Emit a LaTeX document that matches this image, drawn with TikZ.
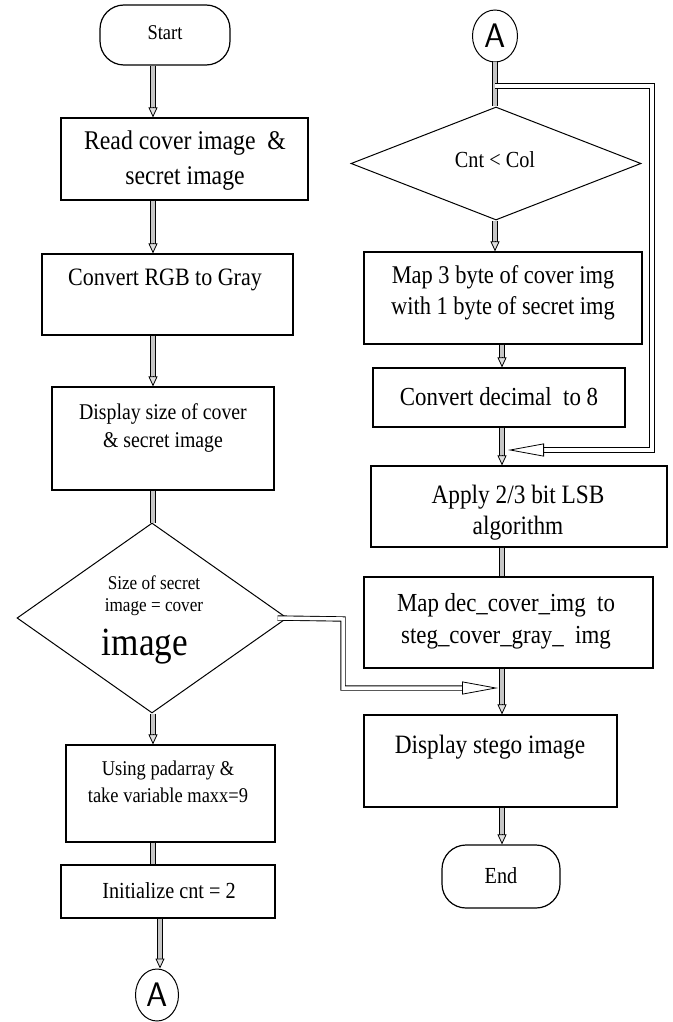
\documentclass[tikz,border=0pt]{standalone}
\usepackage{fontspec}
\setmainfont{Liberation Serif}[FakeStretch=0.88]
\usetikzlibrary{shapes.geometric,arrows.meta,calc}
\tikzset{
  box/.style={draw=black, line width=1.2pt, rectangle, inner sep=0pt},
  term/.style={draw=black, line width=1.2pt, rectangle, rounded corners=24pt, inner sep=0pt},
  dia/.style={draw=black, line width=1pt, diamond, inner sep=0pt},
  conn/.style={draw=black, line width=1pt, ellipse, inner sep=0pt},
  txt/.style={inner sep=0pt, align=center},
  dbl/.style={draw=black, line width=0.9pt, double=gray!45, double distance=3.5pt},
  dblw/.style={dbl, double=white},
  tipv/.style={draw=black, line width=0.8pt, -{Triangle[length=10pt,width=9pt,fill=gray!25]}},
  tiph/.style={draw=black, line width=0.8pt, -{Triangle[length=36pt,width=13pt,fill=white]}},
}
\newcommand\varr[2]{\draw[dbl,shorten >=9pt] (#1) -- (#2); \draw[tipv] ($(#2)!10pt!(#1)$) -- (#2);}
\newcommand\fs[2]{\fontsize{#1}{#2}\selectfont}
\begin{document}
\begin{tikzpicture}[x=1pt,y=-1pt]
\useasboundingbox (0,0) rectangle (672,1022);
% left column
\node[term, minimum width=130pt, minimum height=60pt] (start) at (165,35) {};
\node[box, minimum width=247pt, minimum height=82pt] (read) at (184.5,159) {};
\node[box, minimum width=251pt, minimum height=81pt] (conv) at (167.5,294.5) {};
\node[box, minimum width=222pt, minimum height=103pt] (disp) at (163,438.5) {};
\node[dia, minimum width=270pt, minimum height=190pt] (d1) at (152,618) {};
\node[box, minimum width=209pt, minimum height=97pt] (using) at (170.5,793.5) {};
\node[box, minimum width=214pt, minimum height=53pt] (init) at (168,891.5) {};
\node[conn, minimum width=43pt, minimum height=52pt] (A1) at (157,995) {};
% right column
\node[conn, minimum width=45pt, minimum height=52pt] (A2) at (495,36) {};
\node[dia, minimum width=290pt, minimum height=113pt] (d2) at (496,163.5) {};
\node[box, minimum width=278pt, minimum height=92pt] (map3) at (503,298) {};
\node[box, minimum width=252pt, minimum height=59pt] (convdec) at (499,397.5) {};
\node[box, minimum width=296pt, minimum height=81pt] (apply) at (519,506.5) {};
\node[box, minimum width=289pt, minimum height=91pt] (mapdec) at (508.5,622.5) {};
\node[box, minimum width=253pt, minimum height=92pt] (dstego) at (490.5,761) {};
\node[term, minimum width=118pt, minimum height=63pt] (endn) at (501,876.5) {};
% texts
\node[txt, font=\fs{21}{24}] (tstart) at (165,33) {Start};
\node[txt, font=\fs{27}{35}] (tread) at (185,161) {Read cover image \ \&\\secret image};
\node[txt, font=\fs{25}{30}] (tconv) at (165,280) {Convert RGB to Gray};
\node[txt, font=\fs{22.5}{28}] (tdisp) at (163,428) {Display size of cover\\\& secret image};
\node[txt, font=\fs{19.5}{22}] (td1a) at (154,596) {Size of secret\\image = cover};
\node[txt, font=\fs{40}{40}] (td1b) at (145,647) {image};
\node[txt, font=\fs{21}{27}] (tusing) at (168,782) {Using padarray \&\\take variable maxx=9};
\node[txt, font=\fs{23}{28}] (tinit) at (169,891) {Initialize cnt = 2};
\node[txt, font=\sffamily\fs{34}{34}] (tA1) at (157,995) {A};
\node[txt, font=\sffamily\fs{34}{34}] (tA2) at (495,36) {A};
\node[txt, font=\fs{23}{28}] (td2) at (495,160) {Cnt < Col};
\node[txt, font=\fs{25.5}{31}] (tmap3) at (503,293) {Map 3 byte of cover img\\with 1 byte of secret img};
\node[txt, font=\fs{26}{31}] (tconvdec) at (499,397) {Convert decimal \ to 8};
\node[txt, font=\fs{26.5}{31}] (tapply) at (518,513) {Apply 2/3 bit LSB\\algorithm};
\node[txt, font=\fs{26}{32}] (tmapdec) at (506,621) {Map dec\_cover\_img \ to\\steg\_cover\_gray\_ \ img};
\node[txt, font=\fs{26.5}{31}] (tdstego) at (490,747) {Display stego image};
\node[txt, font=\fs{23}{28}] (tend) at (501,876) {End};
% column lines
\coordinate (L) at (153,0);
\coordinate (LA) at (160,0);
\coordinate (R1) at (495,0);
\coordinate (R) at (502,0);
% left connectors
\varr{start.south -| L}{read.north -| L}
\varr{read.south -| L}{conv.north -| L}
\varr{conv.south -| L}{disp.north -| L}
\draw[dbl] (disp.south -| L) -- (d1.north -| L);
\varr{d1.south -| L}{using.north -| L}
\draw[dbl] (using.south -| L) -- (init.north -| L);
\varr{init.south -| LA}{A1.north -| LA}
% right connectors
\draw[dbl] (A2.south -| R1) -- (d2.north -| R1);
\varr{d2.south -| R1}{map3.north -| R1}
\varr{map3.south -| R}{convdec.north -| R}
\varr{convdec.south -| R}{apply.north -| R}
\draw[dbl] (apply.south -| R) -- (mapdec.north -| R);
\varr{mapdec.south -| R}{dstego.north -| R}
\varr{dstego.south -| R}{endn.north -| R}
% loop
\coordinate (J) at (495,86);
\coordinate (lc1) at (652,86);
\coordinate (lc2) at (652,450);
\coordinate (mergeA) at (508,450);
\draw[dblw, double distance=4.5pt, shorten >=32pt] (J) -- (lc1) -- (lc2) -- (mergeA);
\draw[tiph] ($(mergeA)!34pt!(lc2)$) -- (mergeA);
% exit of d1
\coordinate (bend1) at (343,619);
\coordinate (bend2) at (343,688);
\coordinate (mergeB) at (498,688);
\draw[dblw, shorten >=34pt] ([xshift=-10pt]d1.east) -- (bend1) -- (bend2) -- (mergeB);
\draw[tiph] ($(mergeB)!36pt!(bend2)$) -- (mergeB);
\end{tikzpicture}
\end{document}
